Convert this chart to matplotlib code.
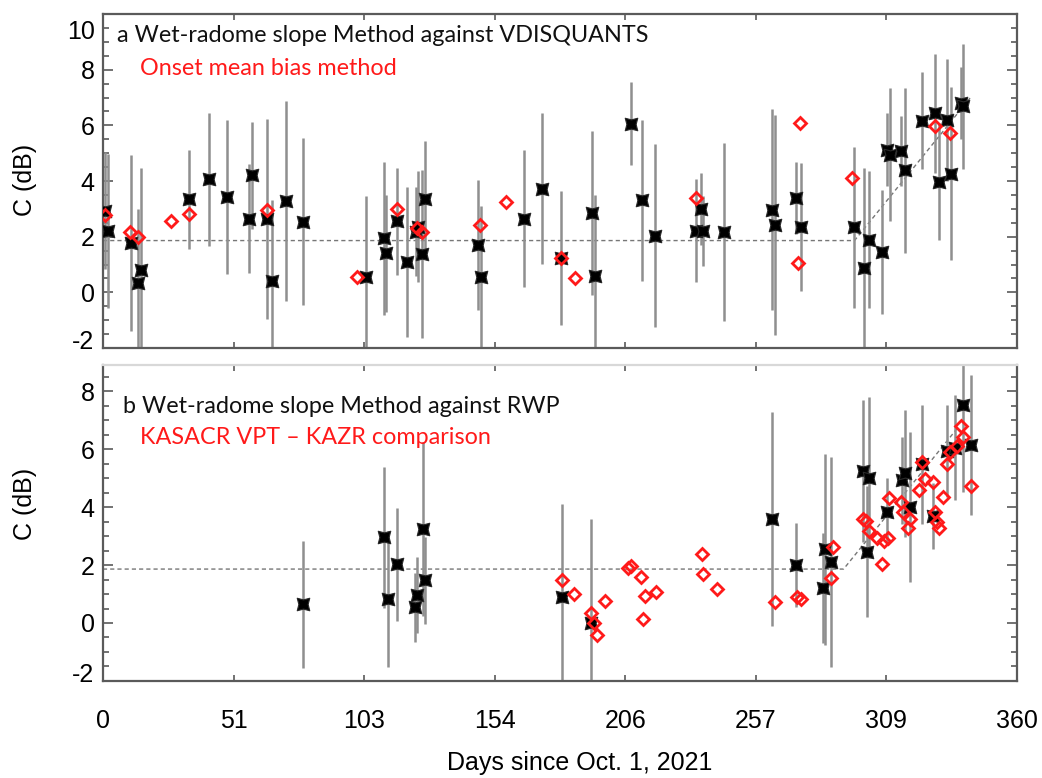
import matplotlib
matplotlib.use("Agg")
import matplotlib.pyplot as plt
from matplotlib.path import Path
from matplotlib.ticker import MultipleLocator, FixedLocator, NullLocator
from matplotlib.transforms import ScaledTranslation

# ---- Panel a: wet-radome slope method against VDISQUANTS ----
a_days = [0.8, 1.9, 10.9, 13.7, 14.8, 34.0, 41.9, 49.0, 57.6, 58.9, 64.8, 66.6,
          72.0, 78.9, 103.8, 110.8, 111.6, 115.9, 119.9, 123.1, 124.2, 125.8,
          126.8, 147.8, 148.9, 165.8, 172.8, 180.4, 192.7, 193.8, 207.8, 212.5,
          217.6, 233.5, 235.5, 236.4, 244.7, 263.7, 264.7, 272.8, 274.8, 295.8,
          299.7, 301.8, 306.7, 308.9, 310.0, 314.5, 315.9, 322.4, 327.7, 329.4,
          332.5, 333.9, 337.8, 338.8]
a_c = [2.93, 2.19, 1.77, 0.35, 0.79, 3.35, 4.06, 3.43, 2.65, 4.20, 2.63, 0.40,
       3.29, 2.54, 0.55, 1.94, 1.40, 2.55, 1.08, 2.18, 2.36, 1.38,
       3.35, 1.70, 0.55, 2.65, 3.73, 1.23, 2.85, 0.58, 6.06, 3.30,
       2.04, 2.22, 3.00, 2.20, 2.18, 2.97, 2.42, 3.40, 2.36, 2.33,
       0.88, 1.89, 1.46, 5.13, 4.95, 5.07, 4.38, 6.17, 6.43, 3.98,
       6.20, 4.26, 6.80, 6.68]
a_err = [2.10, 2.77, 3.15, 2.64, 3.66, 1.78, 2.40, 2.76, 1.95, 1.93, 3.60, 2.90,
         3.60, 3.00, 2.90, 2.74, 2.10, 1.93, 2.70, 1.60, 2.00, 3.03,
         2.10, 2.33, 2.55, 2.46, 2.70, 2.40, 2.95, 2.90, 1.50, 2.90,
         3.30, 1.85, 1.30, 1.25, 3.20, 3.60, 3.95, 1.30, 2.30, 2.90,
         3.60, 2.47, 2.23, 1.30, 2.38, 1.25, 2.95, 1.74, 2.15, 2.10,
         2.20, 3.10, 1.30, 2.25]

# onset mean bias method
a_onset_days = [0.8, 10.6, 13.7, 26.8, 34.0, 64.8, 99.9, 115.9, 123.8, 125.5,
                148.5, 158.7, 180.4, 185.9, 233.5, 273.6, 274.5, 294.9, 327.7, 333.6]
a_onset_c = [2.79, 2.18, 1.98, 2.57, 2.81, 2.96, 0.55, 2.99, 2.30, 2.15,
             2.42, 3.25, 1.23, 0.51, 3.40, 1.05, 6.10, 4.12, 5.99, 5.73]

# fitted calibration offset: constant, then linear rise
a_fit_days = [0.0, 296.0, 341.5]
a_fit_c = [1.86, 1.86, 6.98]

# ---- Panel b: wet-radome slope method against RWP ----
b_days = [78.9, 110.8, 112.1, 115.9, 122.9, 123.8, 125.9, 127.0, 180.7, 192.4,
          263.6, 272.8, 283.7, 284.3, 286.6, 299.5, 300.8, 301.8, 308.7, 314.6,
          315.9, 317.9, 322.4, 326.8, 332.5, 335.5, 338.8, 341.9]
b_c = [0.64, 2.95, 0.82, 2.02, 0.54, 0.97, 3.24, 1.48, 0.91, -0.01,
       3.58, 2.00, 1.22, 2.54, 2.11, 5.24, 2.46, 5.01, 3.84, 4.93,
       5.16, 4.01, 5.47, 3.69, 5.93, 6.05, 7.52, 6.14]
b_err = [2.20, 2.43, 2.34, 1.95, 1.20, 1.32, 3.00, 1.50, 3.20, 3.60,
         3.69, 1.45, 1.90, 3.30, 3.63, 2.45, 2.26, 2.77, 1.15, 1.50,
         2.20, 2.59, 2.04, 1.15, 1.60, 1.80, 3.00, 2.40]

# KASACR VPT - KAZR comparison
b_vpt_days = [180.7, 185.6, 192.4, 193.5, 194.7, 197.7, 206.9, 207.8, 211.8, 212.8,
              213.5, 217.8, 235.8, 236.5, 241.7, 264.6, 273.4, 274.8, 286.6, 287.6,
              299.5, 300.6, 301.8, 304.7, 306.7, 307.6, 309.1, 309.7, 314.4, 315.2,
              316.9, 317.9, 321.5, 322.4, 323.7, 326.8, 327.7, 328.6, 329.4, 330.7,
              332.5, 333.6, 336.5, 337.8, 338.8, 341.9]
b_vpt_c = [1.48, 0.99, 0.36, 0.01, -0.41, 0.77, 1.89, 1.97, 1.60, 0.13,
           0.93, 1.08, 2.37, 1.68, 1.16, 0.74, 0.89, 0.83, 1.54, 2.61,
           3.59, 3.52, 3.17, 2.94, 2.02, 2.83, 2.92, 4.32, 4.16, 3.84,
           3.26, 3.59, 4.59, 5.54, 4.95, 4.87, 3.84, 3.47, 3.26, 4.33,
           5.47, 5.89, 6.11, 6.80, 6.42, 4.73]

b_fit_days = [0.0, 291.7, 336.8]
b_fit_c = [1.86, 1.86, 6.75]

# x axis: seven equal divisions of 360 days
x_tick_pos = [360.0 * i / 7 for i in range(8)]
x_tick_labels = ['0', '51', '103', '154', '206', '257', '309', '360']

# square symbol with slightly pinched sides
_p = 0.74
_v = [(1, 1), (0, _p), (-1, 1), (-_p, 0), (-1, -1), (0, -_p), (1, -1), (_p, 0), (1, 1)]
pinched_square = Path(_v, [Path.MOVETO] + [Path.LINETO] * 7 + [Path.CLOSEPOLY])

TICK_FONT = 'Liberation Sans'
NOTE_FONT = 'Lato'
SPINE = '#5a5a5a'
ERR = '#8f8f8f'
RED = '#ff1a1a'

fig = plt.figure(figsize=(10.42, 7.78), dpi=100)
ax_a = fig.add_axes([0.0988, 0.5527, 0.8772, 0.4293])
ax_b = fig.add_axes([0.0988, 0.1247, 0.8772, 0.4062])


def draw_panel(ax, days, c, err, rdays, rc, fdays, fc, ylim, yticks):
    ax.plot(fdays, fc, color='#777777', lw=1.0, ls=(0, (3, 2.2)), zorder=1)
    ax.errorbar(days, c, yerr=err, fmt='none', ecolor=ERR, elinewidth=1.8,
                capsize=0, zorder=2)
    ax.plot(days, c, ls='none', marker=pinched_square, ms=9, mfc='black',
            mec='#2a2a2a', mew=0.8, zorder=3)
    ax.plot(rdays, rc, ls='none', marker='D', ms=6.5, mfc='none', mec=RED,
            mew=2.0, zorder=4)
    ax.set_xlim(0, 360)
    ax.set_ylim(*ylim)
    ax.xaxis.set_major_locator(FixedLocator(x_tick_pos))
    ax.xaxis.set_minor_locator(NullLocator())
    ax.yaxis.set_major_locator(FixedLocator(yticks))
    ax.yaxis.set_minor_locator(MultipleLocator(0.5))
    ax.tick_params(axis='both', which='both', direction='in', colors=SPINE,
                   top=True, right=True, width=1.2)
    ax.tick_params(axis='y', which='major', length=7, labelsize=18, pad=6,
                   labelcolor='black')
    ax.tick_params(axis='y', which='minor', length=4)
    ax.tick_params(axis='x', which='major', length=4, labelsize=18, pad=20,
                   labelcolor='black')
    ax.set_yticklabels([f'{t:g}' for t in yticks], fontfamily=TICK_FONT)
    for s in ax.spines.values():
        s.set_color(SPINE)
        s.set_linewidth(1.6)
    ax.set_ylabel('C (dB)', fontsize=18, fontfamily=TICK_FONT)


draw_panel(ax_a, a_days, a_c, a_err, a_onset_days, a_onset_c, a_fit_days, a_fit_c,
           (-2, 10), [-2, 0, 2, 4, 6, 8, 10])
draw_panel(ax_b, b_days, b_c, b_err, b_vpt_days, b_vpt_c, b_fit_days, b_fit_c,
           (-2, 8.9), [-2, 0, 2, 4, 6, 8])

ax_a.set_xticklabels([])
ax_b.set_xticklabels(x_tick_labels, fontfamily=TICK_FONT)
ax_b.spines['top'].set_color('#d8d8d8')

# keep end labels inside the frame
lab_a = ax_a.get_yticklabels()
lab_a[0].set_transform(lab_a[0].get_transform() + ScaledTranslation(0, 6 / 72, fig.dpi_scale_trans))
lab_a[-1].set_transform(lab_a[-1].get_transform() + ScaledTranslation(0, -11 / 72, fig.dpi_scale_trans))
lab_b = ax_b.get_yticklabels()
lab_b[0].set_transform(lab_b[0].get_transform() + ScaledTranslation(0, 6 / 72, fig.dpi_scale_trans))

ax_a.yaxis.set_label_coords(-0.072, 0.503)
ax_b.yaxis.set_label_coords(-0.072, 0.56)

NOTE_SIZE = 16.8
ax_a.text(0.0153, 0.937, 'a Wet-radome slope Method against VDISQUANTS', transform=ax_a.transAxes,
          fontsize=NOTE_SIZE, fontfamily=NOTE_FONT, color='#111111', va='center', ha='left')
ax_a.text(0.0405, 0.838, 'Onset mean bias method', transform=ax_a.transAxes,
          fontsize=NOTE_SIZE, fontfamily=NOTE_FONT, color=RED, va='center', ha='left')
ax_b.text(0.0219, 0.867, 'b Wet-radome slope Method against RWP', transform=ax_b.transAxes,
          fontsize=NOTE_SIZE, fontfamily=NOTE_FONT, color='#111111', va='center', ha='left')
ax_b.text(0.0405, 0.769, 'KASACR VPT \u2013 KAZR comparison', transform=ax_b.transAxes,
          fontsize=NOTE_SIZE, fontfamily=NOTE_FONT, color=RED, va='center', ha='left')

fig.text(580 / 1042, 1 - 763 / 778, 'Days since Oct. 1, 2021', fontsize=18,
         fontfamily=TICK_FONT, ha='center', va='center')

fig.savefig('out.png', dpi=100, facecolor='white')
